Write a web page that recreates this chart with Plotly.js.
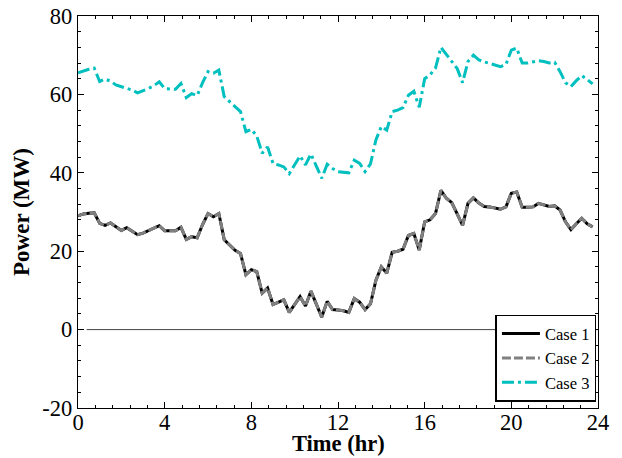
<!DOCTYPE html>
<html>
<head>
<meta charset="utf-8">
<script src="https://cdn.plot.ly/plotly-3.0.1.min.js"></script>
<style>html,body{margin:0;padding:0;background:#fff;}#chart{width:622px;height:458px;}</style>
</head>
<body>
<div id="chart"></div>
<script>
// Time axis: 15-minute steps (hours)
const timeHr = [0,0.25,0.5,0.75,1,1.25,1.5,1.75,2,2.25,2.5,2.75,3,3.25,3.5,3.75,4,4.25,4.5,4.75,5,5.25,5.5,5.75,6,6.25,6.5,6.75,7,7.25,7.5,7.75,8,8.25,8.5,8.75,9,9.25,9.5,9.75,10,10.25,10.5,10.75,11,11.25,11.5,11.75,12,12.25,12.5,12.75,13,13.25,13.5,13.75,14,14.25,14.5,14.75,15,15.25,15.5,15.75,16,16.25,16.5,16.75,17,17.25,17.5,17.75,18,18.25,18.5,18.75,19,19.25,19.5,19.75,20,20.25,20.5,20.75,21,21.25,21.5,21.75,22,22.25,22.5,22.75,23,23.25,23.5,23.75];

const case1 = [29.0,29.5,29.7,29.8,27.1,26.6,27.2,26.3,25.3,26.0,25.0,24.2,24.6,25.2,25.7,26.5,25.2,25.2,25.2,26.1,23.0,23.7,23.4,26.8,29.6,28.8,29.6,22.9,21.5,20.2,19.4,14.0,15.3,14.8,9.3,10.6,6.4,7.0,7.6,4.4,6.4,8.4,6.0,9.8,6.5,3.2,7.2,5.1,5.0,4.8,4.4,7.9,7.0,5.1,6.6,12.6,16.0,14.4,19.7,20.0,20.5,24.0,24.5,20.3,27.5,28.0,29.6,35.5,33.5,32.4,29.5,26.6,32.2,33.6,32.3,31.4,31.3,31.0,30.7,31.3,34.8,35.1,31.2,31.2,31.3,32.2,31.8,31.4,31.6,30.5,27.5,25.5,27.0,28.4,27.0,26.2];

const case2 = [29.0,29.5,29.7,29.8,27.1,26.6,27.2,26.3,25.3,26.0,25.0,24.2,24.6,25.2,25.7,26.5,25.2,25.2,25.2,26.1,23.0,23.7,23.4,26.8,29.6,28.8,29.6,22.9,21.5,20.2,19.4,14.0,15.3,14.8,9.3,10.6,6.4,7.0,7.6,4.4,6.4,8.4,6.0,9.8,6.5,3.2,7.2,5.1,5.0,4.8,4.4,7.9,7.0,5.1,6.6,12.6,16.0,14.4,19.7,20.0,20.5,24.0,24.5,20.3,27.5,28.0,29.6,35.5,33.5,32.4,29.5,26.6,32.2,33.6,32.3,31.4,31.3,31.0,30.7,31.3,34.8,35.1,31.2,31.2,31.3,32.2,31.8,31.4,31.6,30.5,27.5,25.5,27.0,28.4,27.0,26.2];

const case3 = [65.5,66.0,66.4,66.7,63.3,63.9,63.4,62.4,62.0,61.6,61.1,60.4,60.9,61.5,62.2,63.2,61.5,61.4,61.3,62.8,59.2,60.2,59.7,63.0,65.8,65.4,66.2,59.4,58.2,57.0,55.6,50.5,51.1,49.4,45.0,46.6,42.4,42.0,41.5,39.8,42.0,44.3,42.0,44.8,41.7,38.6,42.2,41.1,40.3,40.2,40.0,43.2,42.4,40.3,42.3,48.4,51.8,50.9,55.6,56.0,56.6,59.8,60.8,56.7,64.0,65.0,66.7,72.0,70.3,68.6,66.6,63.0,68.4,70.0,68.8,68.3,67.9,67.5,67.1,67.6,71.3,71.8,68.0,68.0,68.3,68.6,68.4,68.0,68.2,65.8,63.0,62.0,63.5,64.8,63.8,62.7];

const seriesNames = ["Case 1", "Case 2", "Case 3"];
const xTicks = [0, 4, 8, 12, 16, 20, 24];
const yTicks = [-20, 0, 20, 40, 60, 80];
const zeroLineX = [0.4, 24];
const zeroLineY = [0, 0];
const xTitle = "Time (hr)";
const yTitle = "Power (MW)";

const serif = "Liberation Serif, serif";

const traces = [
  {x: zeroLineX, y: zeroLineY, mode: "lines", showlegend: false, hoverinfo: "skip",
   line: {color: "#444444", width: 1}},
  {x: timeHr, y: case1, name: seriesNames[0], mode: "lines",
   line: {color: "#000000", width: 3}},
  {x: timeHr, y: case2, name: seriesNames[1], mode: "lines",
   line: {color: "#808080", width: 3, dash: "9px,3px"}},
  {x: timeHr, y: case3, name: seriesNames[2], mode: "lines",
   line: {color: "#00BFBF", width: 3, dash: "12px,4px,3px,4px"}}
];

const axisCommon = {
  showline: true, linecolor: "#000", linewidth: 1.3, mirror: "allticks",
  ticks: "inside", ticklen: 6, tickwidth: 1, tickcolor: "#000",
  showgrid: false, zeroline: false,
  tickfont: {family: serif, size: 22.5, color: "#000"}
};

const layout = {
  width: 622, height: 458,
  margin: {l: 78, r: 24, t: 16, b: 50},
  paper_bgcolor: "#fff", plot_bgcolor: "#fff",
  showlegend: true,
  xaxis: Object.assign({}, axisCommon, {
    range: [0, 24], tickmode: "array", tickvals: xTicks, ticktext: xTicks.map(String),
    ticklabelstandoff: -6,
    minor: {dtick: 0.8, tick0: 0, ticks: "inside", ticklen: 3, tickcolor: "#000", tickwidth: 1}
  }),
  yaxis: Object.assign({}, axisCommon, {
    range: [-20, 80], tickmode: "array", tickvals: yTicks, ticktext: yTicks.map(String),
    minor: {dtick: 4, tick0: 0, ticks: "inside", ticklen: 3, tickcolor: "#000", tickwidth: 1},
    title: {text: "<b>" + yTitle + "</b>", font: {family: serif, size: 23, color: "#000"}, standoff: 6}
  }),
  annotations: [{
    text: "<b>" + xTitle + "</b>", xref: "paper", yref: "paper",
    x: 0.5, y: -0.125, xanchor: "center", yanchor: "bottom",
    showarrow: false, borderpad: 0,
    font: {family: serif, size: 22.5, color: "#000"}
  }],
  legend: {
    x: 0.997, y: 0.016, xanchor: "right", yanchor: "bottom",
    bgcolor: "#fff", bordercolor: "#000", borderwidth: 1.5,
    font: {family: serif, size: 16.5, color: "#000"},
    tracegroupgap: 0, itemwidth: 38
  }
};

Plotly.newPlot("chart", traces, layout, {staticPlot: true, displayModeBar: false});
</script>
</body>
</html>
